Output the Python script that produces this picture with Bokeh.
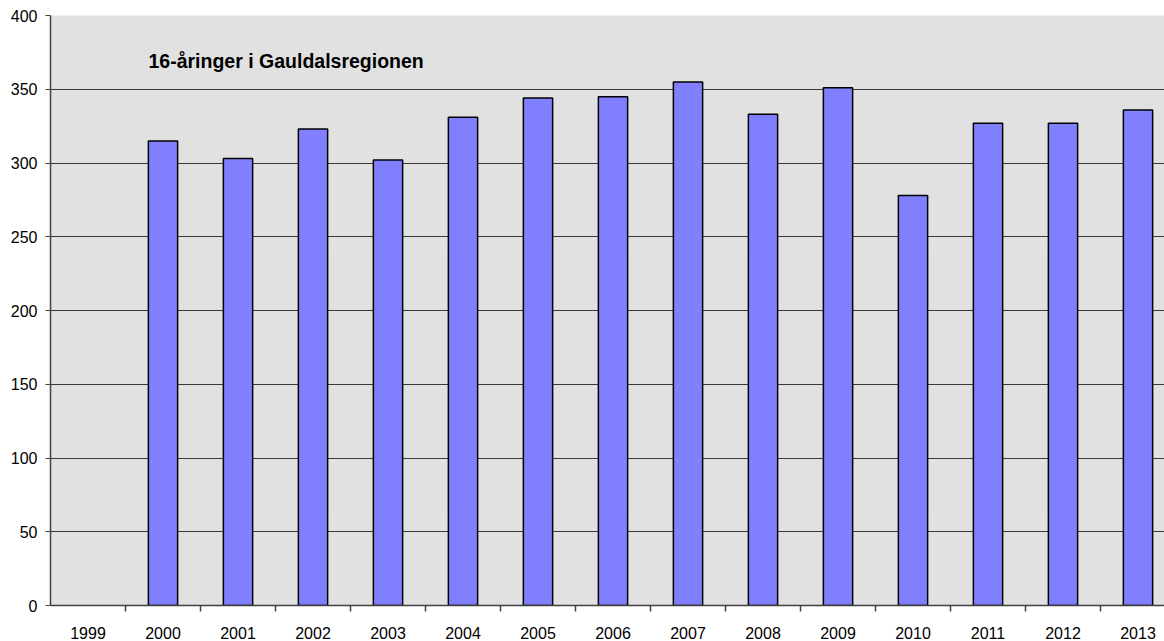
from bokeh.plotting import figure
from bokeh.models import FixedTicker, Label, ColumnDataSource, Range1d
from bokeh.embed import file_html
from bokeh.resources import INLINE

years = ["1999", "2000", "2001", "2002", "2003", "2004", "2005", "2006",
         "2007", "2008", "2009", "2010", "2011", "2012", "2013"]
values = [None, 315, 303, 323, 302, 331, 344, 345, 355, 333, 351, 278, 327, 327, 336]
title_text = "16-åringer i Gauldalsregionen"

xs = [i for i, v in enumerate(values) if v is not None]
tops = [v for v in values if v is not None]
src = ColumnDataSource(dict(x=xs, top=tops))

FONT = "Liberation Sans"

p = figure(width=1164, height=641, output_backend="svg", toolbar_location=None,
           x_range=Range1d(-0.5, -0.5 + 1114 / 75), y_range=Range1d(0, 400),
           min_border_left=50, min_border_right=0, min_border_top=15, min_border_bottom=35)
p.background_fill_color = "#E1E1E1"
p.border_fill_color = "white"
p.outline_line_color = None

p.vbar(x="x", top="top", width=0.39, source=src, fill_color="#8080FF",
       line_color="black", line_width=1.5)

# y axis
p.yaxis.ticker = FixedTicker(ticks=list(range(0, 401, 50)), minor_ticks=[])
p.yaxis.major_tick_in = 0
p.yaxis.major_tick_out = 5
p.yaxis.minor_tick_line_color = None
p.yaxis.axis_line_color = "#404040"
p.yaxis.axis_line_width = 1.5
p.yaxis.major_tick_line_color = "#404040"
p.yaxis.major_label_text_font = FONT
p.yaxis.major_label_text_font_size = "16px"
p.yaxis.major_label_text_color = "black"
p.yaxis.major_label_standoff = 8

# x axis
centers = list(range(len(years)))
bounds = [i + 0.5 for i in range(len(years) - 1)]
p.xaxis.ticker = FixedTicker(ticks=centers, minor_ticks=bounds)
p.xaxis.major_label_overrides = {i: y for i, y in enumerate(years)}
p.xaxis.major_tick_line_color = None
p.xaxis.major_tick_in = 0
p.xaxis.major_tick_out = 0
p.xaxis.minor_tick_in = 0
p.xaxis.minor_tick_out = 6
p.xaxis.minor_tick_line_color = "#404040"
p.xaxis.minor_tick_line_width = 1.5
p.xaxis.axis_line_color = "#404040"
p.xaxis.axis_line_width = 1.5
p.xaxis.major_label_text_font = FONT
p.xaxis.major_label_text_font_size = "16px"
p.xaxis.major_label_text_color = "black"
p.xaxis.major_label_standoff = 15

p.xgrid.grid_line_color = None
p.ygrid.ticker = FixedTicker(ticks=list(range(50, 401, 50)))
p.ygrid.grid_line_color = "#3a3a3a"
p.ygrid.grid_line_width = 1

p.add_layout(Label(x=98, y=545, x_units="screen", y_units="screen",
                   text=title_text, text_font=FONT, text_font_size="19.5px",
                   text_font_style="bold", text_color="black",
                   text_baseline="alphabetic"))

open("out.html", "w").write(file_html(p, INLINE))
